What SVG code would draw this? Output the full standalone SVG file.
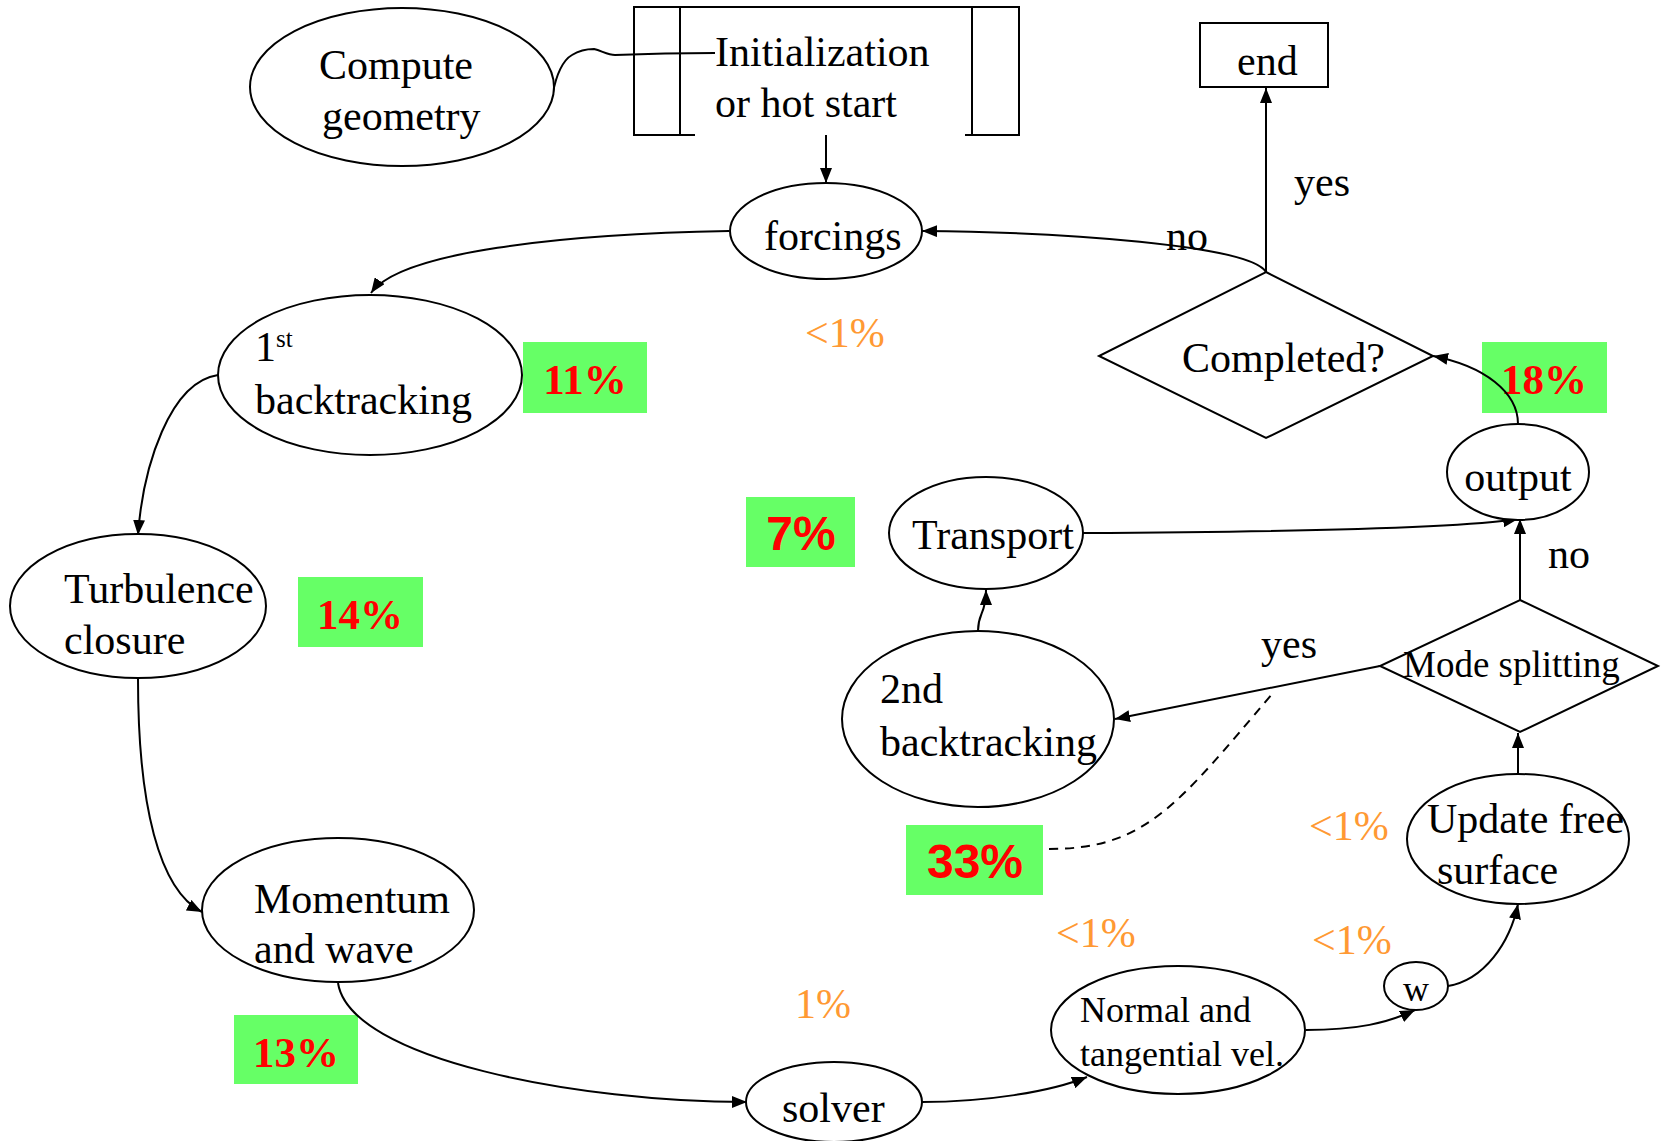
<svg xmlns="http://www.w3.org/2000/svg" width="1662" height="1141" viewBox="0 0 1662 1141">
<style>
.s{fill:#fff;stroke:#000;stroke-width:2}
.t{font-family:"Liberation Serif","Times New Roman",serif;font-size:42px;fill:#000}
.m{font-size:36px}
.ms{font-size:37px}
.c{fill:none;stroke:#000;stroke-width:2}
.g{fill:#66FF66}
.p{font-family:"Liberation Serif","Times New Roman",serif;font-size:43px;font-weight:bold;fill:#FF0000;text-anchor:middle}
.a{font-family:"Liberation Sans",Arial,sans-serif;font-size:48px;font-weight:bold;fill:#FF0000;text-anchor:middle}
.o{font-family:"Liberation Serif","Times New Roman",serif;font-size:42px;fill:#FF9933}
</style>
<defs>
<marker id="ah" markerUnits="userSpaceOnUse" markerWidth="15" markerHeight="12" refX="15" refY="6" orient="auto">
<path d="M0,0 L15,6 L0,12 z" fill="#000"/>
</marker>
</defs>
<rect width="1662" height="1141" fill="#fff"/>

<g id="labels-pct">
<rect class="g" x="523" y="342" width="124" height="71"/>
<text class="p" x="585" y="394">11%</text>
<rect class="g" x="298" y="577" width="125" height="70"/>
<text class="p" x="360" y="629">14%</text>
<rect class="g" x="234" y="1015" width="124" height="69"/>
<text class="p" x="296" y="1067">13%</text>
<rect class="g" x="1482" y="342" width="125" height="71"/>
<text class="p" x="1544" y="394">18%</text>
<rect class="g" x="746" y="497" width="109" height="70"/>
<text class="a" x="801" y="550">7%</text>
<rect class="g" x="906" y="825" width="137" height="70"/>
<text class="a" x="975" y="878">33%</text>
<text class="o" x="805" y="347">&lt;1%</text>
<text class="o" x="795" y="1018">1%</text>
<text class="o" x="1056" y="947">&lt;1%</text>
<text class="o" x="1312" y="954">&lt;1%</text>
<text class="o" x="1309" y="840">&lt;1%</text>
</g>

<g id="connectors">
<path class="c" d="M553,93 C556,75 563,60 572,55 C580,50 588,49 594,49 C602,51 608,55 615,55 C640,54 680,53 715,53"/>
<path class="c" d="M826,135 L826,183" marker-end="url(#ah)"/>
<path class="c" d="M1266,272 L1266,88" marker-end="url(#ah)"/>
<path class="c" d="M1266,272 C1250,245 1060,232 922,231" marker-end="url(#ah)"/>
<path class="c" d="M729,231 C560,234 400,252 371,293" marker-end="url(#ah)"/>
<path class="c" d="M218,375 C170,382 143,466 138,535" marker-end="url(#ah)"/>
<path class="c" d="M138,679 C138,805 159,890 202,912" marker-end="url(#ah)"/>
<path class="c" d="M338,983 C350,1060 580,1102 747,1102" marker-end="url(#ah)"/>
<path class="c" d="M922,1102 C985,1102 1050,1092 1087,1077" marker-end="url(#ah)"/>
<path class="c" d="M1306,1030 C1357,1030 1388,1023 1415,1010" marker-end="url(#ah)"/>
<path class="c" d="M1448,986 C1484,980 1510,943 1518,904" marker-end="url(#ah)"/>
<path class="c" d="M1518,775 L1518,733" marker-end="url(#ah)"/>
<path class="c" d="M1520,600 L1520,519" marker-end="url(#ah)"/>
<path class="c" d="M1518,424 C1518,392 1484,366 1433,356" marker-end="url(#ah)"/>
<path class="c" d="M1083,533 C1270,532 1460,528 1518,519" marker-end="url(#ah)"/>
<path class="c" d="M978,631 C978,612 986,615 986,590" marker-end="url(#ah)"/>
<path class="c" d="M1380,666 L1115,719" marker-end="url(#ah)"/>
<path class="c" d="M1049,849 C1145,849 1177,806 1272,694" stroke-dasharray="9,7"/>
<text class="t" x="1294" y="196">yes</text>
<text class="t" x="1166" y="250">no</text>
<text class="t" x="1548" y="568">no</text>
<text class="t" x="1261" y="658">yes</text>
</g>

<g id="compute-geometry">
<ellipse class="s" cx="402" cy="87" rx="152" ry="79"/>
<text class="t" x="319" y="79">Compute</text>
<text class="t" x="322" y="130">geometry</text>
</g>

<g id="init">
<path class="c" d="M695,135 L634,135 L634,7 L1019,7 L1019,135 L965,135"/>
<path class="c" d="M680,7 L680,135 M972,7 L972,135"/>
<text class="t" x="715" y="66">Initialization</text>
<text class="t" x="715" y="117">or hot start</text>
</g>

<g id="end">
<rect class="s" x="1200" y="23" width="128" height="64"/>
<text class="t" x="1237" y="75">end</text>
</g>

<g id="forcings">
<ellipse class="s" cx="826" cy="231" rx="96" ry="48"/>
<text class="t" x="764" y="250">forcings</text>
</g>

<g id="completed">
<path class="s" d="M1266,272 L1433,356 L1266,438 L1099,356 z"/>
<text class="t" x="1182" y="372">Completed?</text>
</g>

<g id="backtracking1">
<ellipse class="s" cx="370" cy="375" rx="152" ry="80"/>
<text class="t" x="255" y="361">1<tspan font-size="25" dy="-14">st</tspan></text>
<text class="t" x="255" y="414">backtracking</text>
</g>

<g id="turbulence">
<ellipse class="s" cx="138" cy="606" rx="128" ry="72"/>
<text class="t" x="64" y="603">Turbulence</text>
<text class="t" x="64" y="654">closure</text>
</g>

<g id="momentum">
<ellipse class="s" cx="338" cy="910" rx="136" ry="72"/>
<text class="t" x="254" y="913">Momentum</text>
<text class="t" x="254" y="963">and wave</text>
</g>

<g id="solver">
<ellipse class="s" cx="834" cy="1102" rx="88" ry="40"/>
<text class="t" x="782" y="1122">solver</text>
</g>

<g id="normal">
<ellipse class="s" cx="1178" cy="1030" rx="127" ry="64"/>
<text class="t m" x="1080" y="1022">Normal and</text>
<text class="t m" x="1080" y="1066">tangential vel.</text>
</g>

<g id="w">
<ellipse class="s" cx="1416" cy="986" rx="32" ry="24"/>
<text class="t m" x="1416" y="1001" text-anchor="middle">w</text>
</g>

<g id="update">
<ellipse class="s" cx="1518" cy="839" rx="111" ry="65"/>
<text class="t" x="1427" y="833">Update free</text>
<text class="t" x="1437" y="884">surface</text>
</g>

<g id="mode">
<path class="s" d="M1520,600 L1658,666 L1520,732 L1380,666 z"/>
<text class="t ms" x="1403" y="677">Mode splitting</text>
</g>

<g id="output">
<ellipse class="s" cx="1518" cy="472" rx="71" ry="48"/>
<text class="t" x="1518" y="491" text-anchor="middle">output</text>
</g>

<g id="transport">
<ellipse class="s" cx="986" cy="533" rx="97" ry="56"/>
<text class="t" x="912" y="549">Transport</text>
</g>

<g id="backtracking2">
<ellipse class="s" cx="978" cy="719" rx="136" ry="88"/>
<text class="t" x="880" y="703">2nd</text>
<text class="t" x="880" y="756">backtracking</text>
</g>
</svg>
